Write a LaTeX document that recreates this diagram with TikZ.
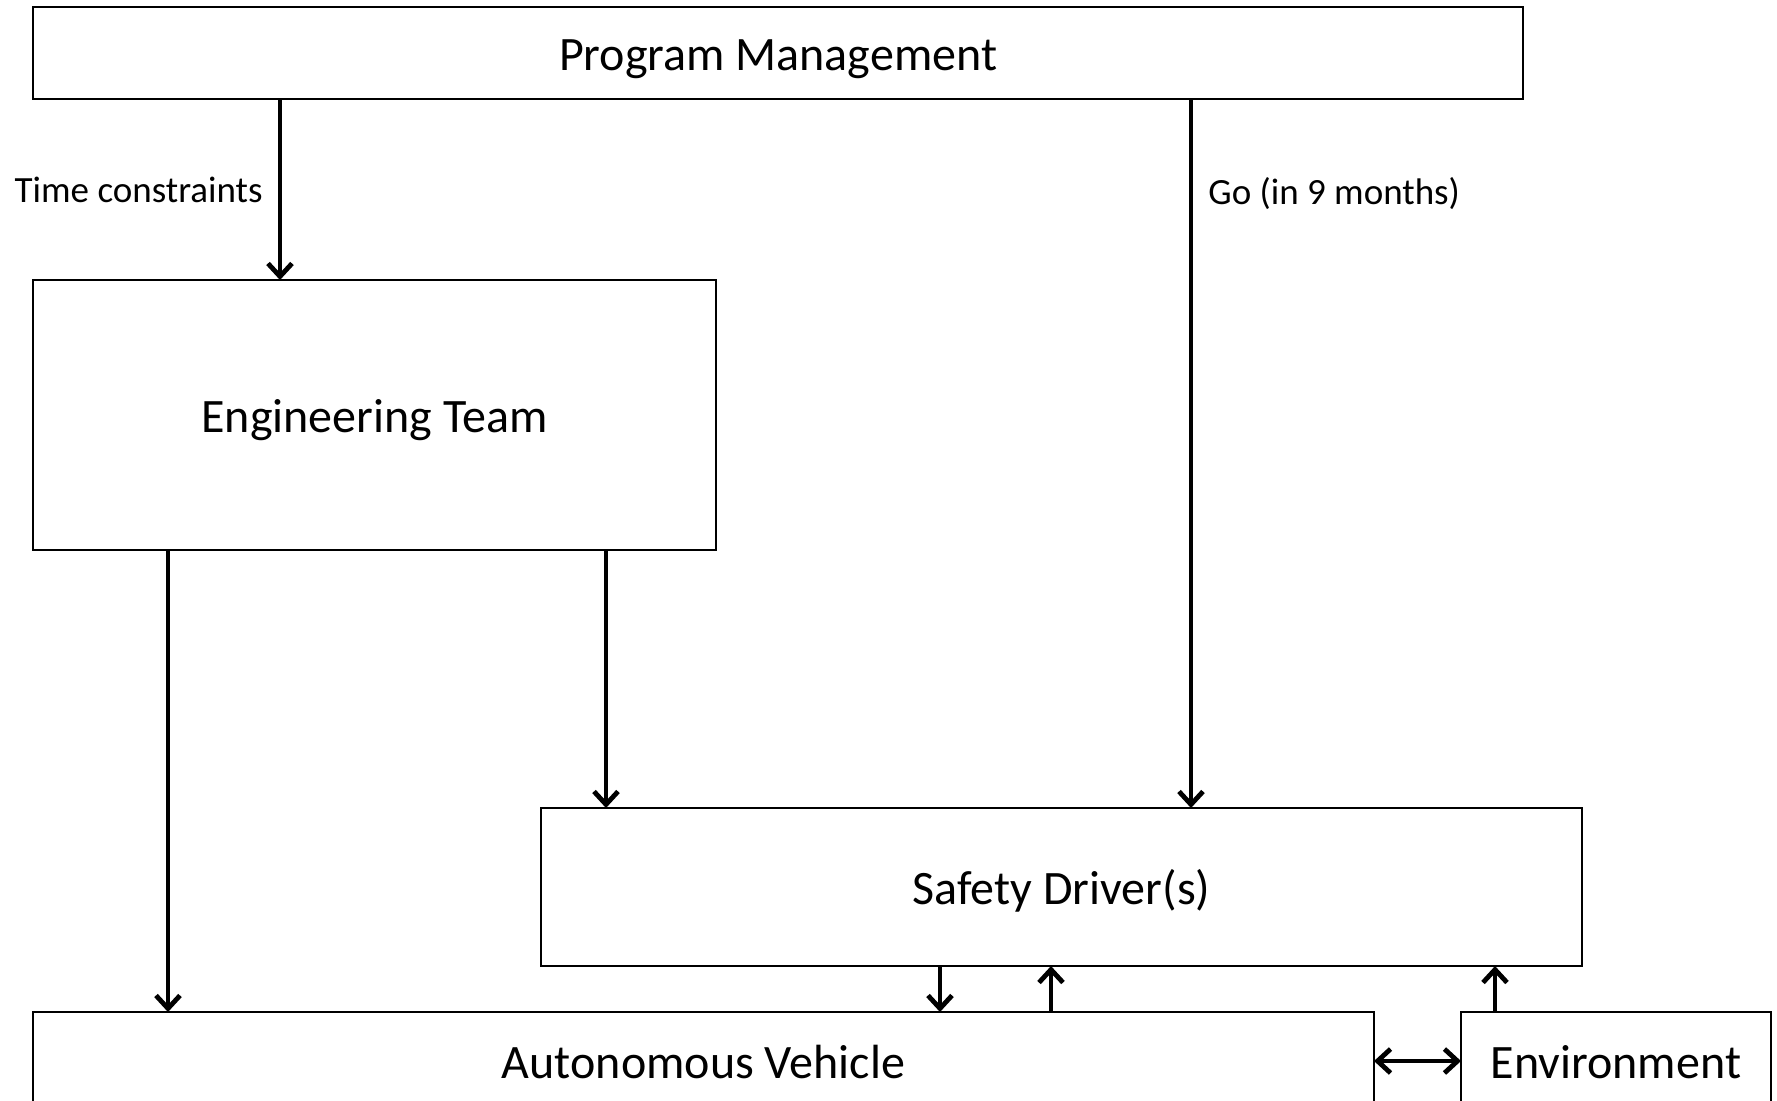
\documentclass[tikz,border=0pt]{standalone}
\usepackage{fontspec}
\setmainfont{Carlito}
\usetikzlibrary{arrows.meta}

\begin{document}
\begin{tikzpicture}[x=0.5pt,y=-0.5pt,
  box/.style={draw,line width=1pt,inner sep=0pt,outer sep=0pt,text height=17.5pt,text depth=0pt,font=\fontsize{24}{28}\selectfont},
  link/.style={line width=2.4pt,-{Straight Barb[length=6.5pt,width=12pt]}},
  lbl/.style={inner sep=0pt,font=\fontsize{18.5}{22}\selectfont}]
\clip (0,0) rectangle (1777,1100);

\node[box,minimum width=745pt,minimum height=46pt] (pm) at (778,53) {Program Management};
\node[box,minimum width=341.5pt,minimum height=135pt] (et) at (374.5,415) {Engineering Team};
\node[box,minimum width=520.5pt,minimum height=79pt] (sd) at (1061.5,887) {Safety Driver(s)};
\node[box,minimum width=670.5pt,minimum height=49pt] (av) at (703.5,1061) {Autonomous Vehicle};
\node[box,minimum width=155pt,minimum height=49pt] (env) at (1616,1061) {Environment};

\draw[link] (pm.south -| 280,0) -- (et.north -| 280,0);
\node[lbl,anchor=east] (tc) at (263,190) {Time constraints};
\draw[link] (pm.south -| 1191,0) -- (sd.north -| 1191,0);
\node[lbl,anchor=west] (go) at (1208,194) {Go (in 9 months)};

\draw[link] (et.south -| 168,0) -- (av.north -| 168,0);
\draw[link] (et.south -| 606,0) -- (sd.north -| 606,0);
\draw[link] (sd.south -| 940,0) -- (av.north -| 940,0);
\draw[link] (av.north -| 1051,0) -- (sd.south -| 1051,0);
\draw[link] (env.north -| 1495,0) -- (sd.south -| 1495,0);
\draw[link,{Straight Barb[length=6.5pt,width=12pt]}-{Straight Barb[length=6.5pt,width=12pt]}] (av.east) -- (env.west);
\end{tikzpicture}
\end{document}
